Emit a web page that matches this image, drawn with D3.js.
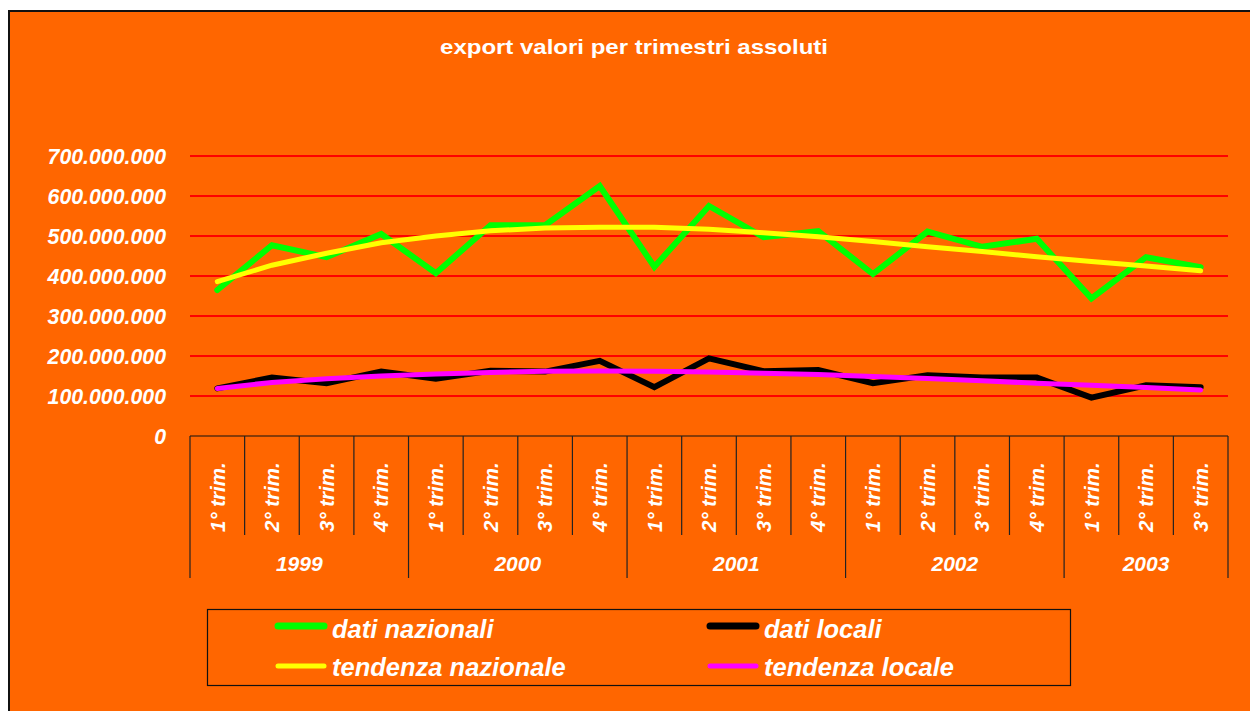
<!DOCTYPE html>
<html><head><meta charset="utf-8">
<script src="https://cdn.jsdelivr.net/npm/d3@7"></script>
<style>
body{margin:0;background:#fff;}
svg{display:block;}
text{font-family:"Liberation Sans",Arial,sans-serif;fill:#fff;}
</style>
</head><body>
<svg id="chart" width="1250" height="711"></svg>
<script>
const title = "export valori per trimestri assoluti";
const quarterLabels = ["1° trim.","2° trim.","3° trim.","4° trim.",
  "1° trim.","2° trim.","3° trim.","4° trim.",
  "1° trim.","2° trim.","3° trim.","4° trim.",
  "1° trim.","2° trim.","3° trim.","4° trim.",
  "1° trim.","2° trim.","3° trim."];
const years = ["1999","2000","2001","2002","2003"];
const quartersPerYear = [4,4,4,4,3];
const datiNazionali = [365,477,447,505,407,527,527,625,423,575,497,512,405,511,473,493,344,447,422].map(v=>v*1e6);
const datiLocali = [119,146,132,161,143,163,161,188,122,194,162,165,132,152,146,146,96,127,122].map(v=>v*1e6);
const tendenzaNazionale = [386,427,457,483,500,513,520,522,522,517,508,498,486,473,461,448,436,425,413].map(v=>v*1e6);
const tendenzaLocale = [119,134,143,150,155,159,162,162.5,162,160,157,154,149,144,138,132,127,121,115].map(v=>v*1e6);
const yTicks = [0,100e6,200e6,300e6,400e6,500e6,600e6,700e6];
const seriesNames = ["dati nazionali","dati locali","tendenza nazionale","tendenza locale"];
const seriesColors = ["#00FF00","#000000","#FFFF00","#FF00FF"];

const svg = d3.select("#chart");
const W = 1250, H = 711;
const plot = {left:190, right:1228, top:156, bottom:436};

// background frame
svg.append("rect").attr("x",9).attr("y",11).attr("width",W).attr("height",H)
  .attr("fill","#FF6600").attr("stroke","#111").attr("stroke-width",2);

// title
svg.append("text").attr("transform","translate(634,54) scale(1.2,1)").attr("text-anchor","middle")
  .attr("font-weight","bold").attr("font-size",20).text(title);

const idx = d3.range(quarterLabels.length);
const x = d3.scaleBand().domain(idx).range([plot.left, plot.right]).padding(0);
const cx = i => x(i) + x.bandwidth()/2;
const y = d3.scaleLinear().domain([0,700e6]).range([plot.bottom, plot.top]);

const loc = d3.formatLocale({decimal:",",thousands:".",grouping:[3],currency:["","€"]});
const fmt = loc.format(",.0f");

// gridlines
svg.append("g").selectAll("line").data(yTicks.filter(d=>d>0)).join("line")
  .attr("x1",plot.left).attr("x2",plot.right)
  .attr("y1",d=>y(d)).attr("y2",d=>y(d))
  .attr("stroke","#FF0000").attr("stroke-width",2);

// y axis labels
const yAxis = d3.axisLeft(y).tickValues(yTicks).tickFormat(fmt).tickSize(0).tickPadding(0);
const yg = svg.append("g").attr("transform","translate(166,0)").call(yAxis);
yg.select(".domain").remove();
yg.selectAll("text").attr("font-size",21.3).attr("font-weight","bold").attr("font-style","italic")
  .attr("fill","#fff").attr("font-family",'"Liberation Sans",Arial,sans-serif').attr("dy","0.35em");

// category axis line
svg.append("line").attr("x1",plot.left).attr("x2",plot.right)
  .attr("y1",plot.bottom).attr("y2",plot.bottom).attr("stroke","#111").attr("stroke-width",1.2);

// year boundaries and quarter ticks
const yearStarts = [];
let acc = 0;
quartersPerYear.forEach(n=>{yearStarts.push(acc); acc+=n;});
const boundaryIdx = d3.range(quarterLabels.length+1);
svg.append("g").selectAll("line").data(boundaryIdx).join("line")
  .attr("x1",i=> i<quarterLabels.length ? x(i) : plot.right)
  .attr("x2",i=> i<quarterLabels.length ? x(i) : plot.right)
  .attr("y1",plot.bottom)
  .attr("y2",i=> (yearStarts.includes(i) || i===quarterLabels.length) ? 578 : 535)
  .attr("stroke","#222").attr("stroke-width",1.2);

// quarter labels
svg.append("g").selectAll("text").data(idx).join("text")
  .attr("transform",i=>`translate(${cx(i)},532) rotate(-90)`)
  .attr("dy","0.35em").attr("text-anchor","start")
  .attr("font-size",20.5).attr("font-weight","bold").attr("font-style","italic")
  .text(i=>quarterLabels[i]);

// year labels
svg.append("g").selectAll("text").data(years).join("text")
  .attr("x",(d,k)=>{const s=yearStarts[k], e=s+quartersPerYear[k]; const xe = e<quarterLabels.length? x(e) : plot.right; return (x(s)+xe)/2;})
  .attr("y",571).attr("text-anchor","middle")
  .attr("font-size",21).attr("font-weight","bold").attr("font-style","italic")
  .text(d=>d);

// lines
const line = d3.line().x((d,i)=>cx(i)).y(d=>y(d));
const allSeries = [datiNazionali, datiLocali, tendenzaNazionale, tendenzaLocale];
const widths = [6,6,5,5];
allSeries.forEach((s,k)=>{
  svg.append("path").datum(s).attr("d",line).attr("fill","none")
    .attr("stroke",seriesColors[k]).attr("stroke-width",widths[k])
    .attr("stroke-linejoin","miter").attr("stroke-linecap","round");
});

// legend
svg.append("rect").attr("x",207.5).attr("y",609.5).attr("width",863).attr("height",76)
  .attr("fill","none").attr("stroke","#111").attr("stroke-width",1.2);
const legPos = [[275,626,638],[707,626,638],[275,666,676],[707,666,676]];
seriesNames.forEach((n,k)=>{
  const [lx,ly,tb] = legPos[k];
  svg.append("line").attr("x1",lx+3).attr("x2",lx+49).attr("y1",ly).attr("y2",ly)
    .attr("stroke",seriesColors[k]).attr("stroke-width",k<2?7:5).attr("stroke-linecap","round");
  svg.append("text").attr("x",lx+57).attr("y",tb)
    .attr("font-size",25.5).attr("font-weight","bold").attr("font-style","italic").text(n);
});
</script>
</body></html>
